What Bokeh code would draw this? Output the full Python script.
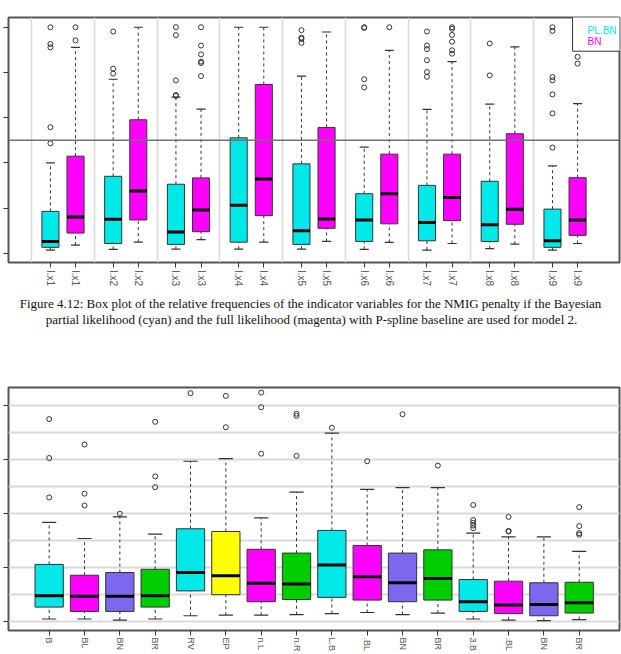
from bokeh.plotting import figure
from bokeh.models import ColumnDataSource, FixedTicker, Span, Range1d, CustomJSTickFormatter
from bokeh.layouts import column
from bokeh.embed import file_html
from bokeh.resources import INLINE
from bokeh.core.properties import value

# ---------------- top chart data ----------------
top_vars = ["l.x1", "l.x2", "l.x3", "l.x4", "l.x5", "l.x6", "l.x7", "l.x8", "l.x9"]
pl_lower = [0.015, 0.018, 0.019, 0.019, 0.019, 0.018, 0.015, 0.021, 0.015]
pl_q1 = [0.027, 0.044, 0.040, 0.050, 0.040, 0.053, 0.056, 0.053, 0.027]
pl_median = [0.053, 0.151, 0.095, 0.213, 0.100, 0.148, 0.137, 0.127, 0.056]
pl_q3 = [0.186, 0.341, 0.306, 0.511, 0.396, 0.264, 0.301, 0.319, 0.196]
pl_upper = [0.400, 0.770, 0.691, 1.000, 0.784, 0.470, 0.637, 0.660, 0.387]
pl_out = [[1.0, 0.926, 0.911, 0.558, 0.487], [0.981, 0.817, 0.795],
          [1.0, 0.965, 0.765, 0.700, 0.697], [], [0.987, 0.954, 0.948, 0.931],
          [1.0, 0.997, 0.770, 0.734], [0.981, 0.919, 0.903, 0.854, 0.802, 0.781],
          [0.928, 0.787], [1.0, 0.984, 0.780, 0.765, 0.703, 0.619, 0.468]]

bn_lower = [0.037, 0.050, 0.061, 0.050, 0.053, 0.049, 0.044, 0.041, 0.044]
bn_q1 = [0.090, 0.148, 0.096, 0.167, 0.111, 0.131, 0.145, 0.129, 0.080]
bn_median = [0.161, 0.276, 0.192, 0.329, 0.152, 0.264, 0.247, 0.195, 0.148]
bn_q3 = [0.430, 0.591, 0.334, 0.747, 0.557, 0.439, 0.439, 0.529, 0.335]
bn_upper = [0.911, 1.000, 0.638, 1.000, 0.979, 0.898, 0.848, 0.913, 0.662]
bn_out = [[1.0, 0.942], [], [1.0, 0.919, 0.880, 0.848, 0.842, 0.784], [], [],
          [1.0], [1.0, 0.993, 0.966, 0.936, 0.898, 0.883], [], [0.869, 0.839]]
legend_labels = ["PL.BN", "BN"]
ref_line = 0.5

# ---------------- bottom chart data ----------------
bot_labels = ["B", "BL", "BN", "BR", "RV", "EP", "n.L", "n.R",
              "L.B", ".BL", "BN", "BR", "3.B", ".BL", "BN", "BR"]
bot_lower = [0.004, 0.004, 0.002, 0.004, 0.010, 0.011, 0.011, 0.012,
             0.014, 0.016, 0.012, 0.015, 0.004, 0.002, 0.001, 0.003]
bot_q1 = [0.026, 0.018, 0.018, 0.026, 0.056, 0.049, 0.036, 0.040,
          0.044, 0.039, 0.036, 0.039, 0.018, 0.014, 0.010, 0.015]
bot_median = [0.047, 0.046, 0.046, 0.047, 0.090, 0.084, 0.070, 0.069,
              0.104, 0.082, 0.071, 0.079, 0.036, 0.030, 0.031, 0.034]
bot_q3 = [0.105, 0.085, 0.090, 0.096, 0.171, 0.166, 0.133, 0.126,
          0.168, 0.140, 0.126, 0.132, 0.077, 0.074, 0.071, 0.072]
bot_upper = [0.183, 0.153, 0.193, 0.161, 0.296, 0.301, 0.191, 0.239,
             0.348, 0.244, 0.247, 0.247, 0.163, 0.156, 0.156, 0.129]
bot_out = [[0.374, 0.302, 0.229], [0.327, 0.236, 0.214], [0.199], [0.369, 0.268, 0.248],
           [0.422], [0.417, 0.359], [0.423, 0.396, 0.310], [0.384, 0.380, 0.306],
           [0.358], [0.296], [0.383], [0.288],
           [0.215, 0.187, 0.182, 0.177, 0.172], [0.193, 0.167, 0.166], [],
           [0.211, 0.176, 0.163, 0.160]]

caption = ["Figure 4.12: Box plot of the relative frequencies of the indicator variables for the NMIG penalty if the Bayesian",
           "partial likelihood (cyan) and the full likelihood (magenta) with P-spline baseline are used for model 2."]

# ---------------- styles ----------------
CYAN = "#00E8E8"
MAGENTA = "#FF00FF"
PURPLE = "#7B68EE"
GREEN = "#00CD00"
YELLOW = "#FFFF00"
bot_colors = [CYAN, MAGENTA, PURPLE, GREEN, CYAN, YELLOW, MAGENTA, GREEN,
              CYAN, MAGENTA, PURPLE, GREEN, CYAN, MAGENTA, PURPLE, GREEN]
EDGE = "#333333"
FRAME = "#555555"


def draw_boxes(p, xs, lower, q1, med, q3, upper, outs, colors, hw, cap):
    src = ColumnDataSource(dict(
        x=xs, left=[x - hw for x in xs], right=[x + hw for x in xs],
        cl=[x - cap for x in xs], cr=[x + cap for x in xs],
        lower=lower, q1=q1, med=med, q3=q3, upper=upper, color=colors))
    p.segment(x0="x", y0="q3", x1="x", y1="upper", source=src,
              line_color=EDGE, line_width=1, line_dash="3 3")
    p.segment(x0="x", y0="lower", x1="x", y1="q1", source=src,
              line_color=EDGE, line_width=1, line_dash="3 3")
    p.segment(x0="cl", y0="upper", x1="cr", y1="upper", source=src,
              line_color=EDGE, line_width=1.2)
    p.segment(x0="cl", y0="lower", x1="cr", y1="lower", source=src,
              line_color=EDGE, line_width=1.2)
    p.quad(left="left", right="right", bottom="q1", top="q3", source=src,
           fill_color="color", line_color=EDGE, line_width=1)
    p.segment(x0="left", y0="med", x1="right", y1="med", source=src,
              line_color="black", line_width=3)
    ox, oy = [], []
    for x, o in zip(xs, outs):
        for v in o:
            ox.append(x)
            oy.append(v)
    p.scatter(ox, oy, marker="circle", size=5, fill_color=None,
              line_color=EDGE, line_width=1)


def style_axes(p, xticks, xlabels, yticks, fsize, standoff):
    p.outline_line_color = FRAME
    p.outline_line_width = 2
    p.xaxis.ticker = FixedTicker(ticks=xticks)
    p.xaxis.major_label_overrides = {t: l for t, l in zip(xticks, xlabels)}
    p.xaxis.major_label_orientation = "vertical"
    p.xaxis.major_label_text_font = "Liberation Sans"
    p.xaxis.major_label_text_font_size = fsize
    p.xaxis.major_label_text_color = "#555555"
    p.xaxis.major_label_standoff = standoff
    p.yaxis.ticker = FixedTicker(ticks=yticks)
    p.yaxis.formatter = CustomJSTickFormatter(code="return ''")
    p.yaxis.major_label_standoff = 0
    for ax in (p.xaxis, p.yaxis):
        ax.axis_line_color = None
        ax.major_tick_out = 5
        ax.major_tick_in = 0
        ax.major_tick_line_color = EDGE
        ax.minor_tick_line_color = None


# ---------------- top figure ----------------
p1 = figure(width=621, height=290, x_range=Range1d(-1.34, 47.34), y_range=Range1d(-0.04, 1.043),
            output_backend="svg", toolbar_location=None,
            min_border_left=8, min_border_right=2, min_border_top=17, min_border_bottom=28)
n = len(top_vars)
pl_x = [2 + 5 * i for i in range(n)]
bn_x = [4 + 5 * i for i in range(n)]
seps = [0.5 + 5 * i for i in range(n)]
p1.ygrid.visible = False
p1.xgrid.ticker = FixedTicker(ticks=seps)
p1.xgrid.grid_line_color = "#D8D8D8"
p1.xgrid.grid_line_width = 1.5
p1.add_layout(Span(location=ref_line, dimension="width", line_color="#707070", line_width=1.5))
draw_boxes(p1, pl_x, pl_lower, pl_q1, pl_median, pl_q3, pl_upper, pl_out, [CYAN] * n, 0.68, 0.36)
draw_boxes(p1, bn_x, bn_lower, bn_q1, bn_median, bn_q3, bn_upper, bn_out, [MAGENTA] * n, 0.68, 0.36)
ticks1 = []
labs1 = []
for i in range(n):
    ticks1 += [pl_x[i], bn_x[i]]
    labs1 += [top_vars[i], top_vars[i]]
style_axes(p1, ticks1, labs1, [0, 0.2, 0.4, 0.6, 0.8, 1.0], "10px", 3)
# legend box
p1.quad(left=[43.6], right=[47.6], bottom=[0.894], top=[1.06], fill_color="white",
        line_color=EDGE, line_width=1)
p1.text(x=[44.8, 44.8], y=[0.987, 0.938], text=legend_labels, text_color=[CYAN, MAGENTA],
        text_font=value("Liberation Sans"), text_font_size="10px",
        text_align="left", text_baseline="middle")

# ---------------- caption ----------------
p3 = figure(width=621, height=80, x_range=Range1d(0, 621), y_range=Range1d(80, 0),
            output_backend="svg", toolbar_location=None, x_axis_type=None, y_axis_type=None,
            min_border=0)
p3.outline_line_color = None
p3.grid.visible = False
p3.text(x=[307, 308], y=[13, 29], text=caption, text_font=value("Liberation Serif"),
        text_font_size="13px", text_align="center", text_baseline="middle", text_color="#111111")

# ---------------- bottom figure ----------------
p2 = figure(width=621, height=284, x_range=Range1d(-0.151, 17.14), y_range=Range1d(-0.0173, 0.4325),
            output_backend="svg", toolbar_location=None,
            min_border_left=8, min_border_right=2, min_border_top=17, min_border_bottom=22)
m = len(bot_labels)
bx = [i + 1 for i in range(m)]
p2.xgrid.visible = False
p2.ygrid.ticker = FixedTicker(ticks=[0.05 * k for k in range(9)])
p2.ygrid.grid_line_color = "#DADADA"
p2.ygrid.grid_line_width = 2
draw_boxes(p2, bx, bot_lower, bot_q1, bot_median, bot_q3, bot_upper, bot_out, bot_colors, 0.4, 0.2)
style_axes(p2, bx, bot_labels, [0, 0.1, 0.2, 0.3, 0.4], "9px", 2)

layout = column(p1, p3, p2, spacing=0)
open("out.html", "w").write(file_html(layout, INLINE))
